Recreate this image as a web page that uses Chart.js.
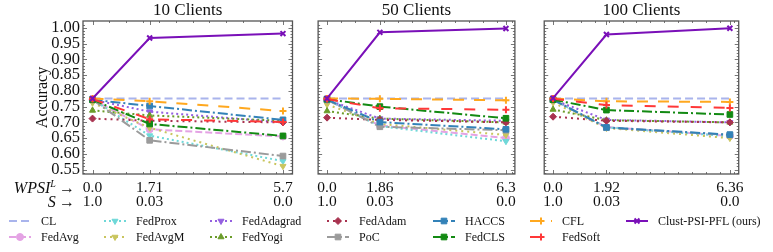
<!DOCTYPE html>
<html>
<head>
<meta charset="utf-8">
<script src="https://cdn.jsdelivr.net/npm/chart.js@4.4.0/dist/chart.umd.min.js"></script>
<style>
  body { margin: 0; background: #fff; width: 773px; height: 252px; overflow: hidden; position: relative; font-family: "Liberation Serif", serif; color: #111; }
  canvas.panel { position: absolute; top: 0; }
  .rowlab { position: absolute; font-size: 16px; line-height: 16px; text-align: right; width: 80px; white-space: nowrap; }
  .rowlab sup { font-size: 10px; vertical-align: 6px; line-height: 0; }
  .leg { position: absolute; font-size: 12px; line-height: 14px; white-space: nowrap; }
  .leg canvas { position: absolute; }
</style>
</head>
<body>
<canvas class="panel" id="p0"></canvas>
<canvas class="panel" id="p1"></canvas>
<canvas class="panel" id="p2"></canvas>
<div class="rowlab" style="left:-5px;top:180px;"><i>WPSI</i><sup><i>L</i></sup>&thinsp;→</div>
<div class="rowlab" style="left:-5px;top:194px;"><i>S</i>&thinsp;→</div>
<div id="legend"></div>
<script>
const panelTitles = ['10 Clients', '50 Clients', '100 Clients'];
const wpsiValues = [[0, 1.71, 5.7], [0, 1.86, 6.3], [0, 1.92, 6.36]];
const wpsiLabels = [['0.0', '1.71', '5.7'], ['0.0', '1.86', '6.3'], ['0.0', '1.92', '6.36']];
const sLabels = [['1.0', '0.03', '0.0'], ['1.0', '0.03', '0.0'], ['1.0', '0.03', '0.0']];
const yTickValues = [0.55, 0.60, 0.65, 0.70, 0.75, 0.80, 0.85, 0.90, 0.95, 1.00];

const methods = ['CL', 'FedAvg', 'FedProx', 'FedAvgM', 'FedAdagrad', 'FedYogi', 'FedAdam',
                 'PoC', 'HACCS', 'FedCLS', 'CFL', 'FedSoft', 'Clust-PSI-PFL (ours)'];

// accuracy per method (same order as methods), one row per method
const acc10 = [
  [0.776, 0.776, 0.776],
  [0.772, 0.678, 0.655],
  [0.772, 0.658, 0.577],
  [0.762, 0.683, 0.561],
  [0.772, 0.734, 0.700],
  [0.738, 0.722, 0.705],
  [0.712, 0.705, 0.700],
  [0.772, 0.643, 0.593],
  [0.772, 0.752, 0.708],
  [0.772, 0.695, 0.657],
  [0.776, 0.767, 0.736],
  [0.774, 0.710, 0.701],
  [0.776, 0.968, 0.982]
];
const acc50 = [
  [0.776, 0.776, 0.776],
  [0.772, 0.690, 0.650],
  [0.772, 0.688, 0.640],
  [0.757, 0.695, 0.660],
  [0.772, 0.712, 0.705],
  [0.736, 0.712, 0.700],
  [0.715, 0.708, 0.700],
  [0.772, 0.686, 0.675],
  [0.772, 0.701, 0.678],
  [0.774, 0.750, 0.713],
  [0.776, 0.775, 0.770],
  [0.774, 0.745, 0.740],
  [0.776, 0.986, 0.998]
];
const acc100 = [
  [0.776, 0.776, 0.776],
  [0.772, 0.685, 0.657],
  [0.772, 0.684, 0.656],
  [0.763, 0.682, 0.650],
  [0.772, 0.708, 0.700],
  [0.741, 0.707, 0.700],
  [0.718, 0.705, 0.700],
  [0.772, 0.683, 0.660],
  [0.772, 0.684, 0.661],
  [0.772, 0.739, 0.725],
  [0.776, 0.767, 0.765],
  [0.775, 0.755, 0.746],
  [0.777, 0.979, 0.999]
];
const accPanels = [acc10, acc50, acc100];

const colors = ['#a9b4ec', '#e4a3e4', '#6fd8d8', '#c9c55e', '#9460e0', '#6b9c2a', '#a8324f',
                '#9b9b9b', '#3382b8', '#138a13', '#ffa81f', '#ff3838', '#7a10b8'];
const dashes = [[8, 4], [7, 3], [2, 3], [2, 4], [2, 3], [2, 3], [2, 4],
                [10, 3, 2, 3], [10, 3, 2, 3], [10, 3, 2, 3], [11, 10], [11, 12], []];
const markers = [false, 'circle', 'triangle', 'triangle', 'triangle', 'triangle', 'rectRot',
                 'rect', 'rect', 'rect', 'cross', 'cross', 'crossRot'];
const markerRot = [0, 0, 180, 180, 180, 0, 0, 0, 0, 0, 0, 0, 0];

// plot area geometry
const areaLeft = [83, 310, 536];
const areaRight = [296, 519, 747];
const axisW = [55, 0, 0];
const canvasH = 212;
const areaTop = 21;
const areaBottom = 174;

const framePlugin = {
  id: 'frame',
  afterDatasetsDraw(chart, args, opts) {
    const { ctx, chartArea: a, scales: { x, y } } = chart;
    ctx.save();
    ctx.strokeStyle = '#555';
    ctx.lineWidth = 1.3;
    ctx.strokeRect(a.left, a.top, a.right - a.left, a.bottom - a.top);
    ctx.lineWidth = 0.8;
    ctx.beginPath();
    for (let v = 0.54; v <= 1.02; v += 0.01) {
      const py = Math.round(y.getPixelForValue(v)) + 0.5;
      const major = yTickValues.some(t => Math.abs(t - v) < 1e-6);
      const len = major ? 4 : 2;
      ctx.moveTo(a.left, py); ctx.lineTo(a.left + len, py);
      ctx.moveTo(a.right, py); ctx.lineTo(a.right - len, py);
    }
    for (let v = 0.5; v < x.max; v += 0.5) {
      const px = Math.round(x.getPixelForValue(v)) + 0.5;
      ctx.moveTo(px, a.bottom); ctx.lineTo(px, a.bottom - 2);
      ctx.moveTo(px, a.top); ctx.lineTo(px, a.top + 2);
    }
    opts.majors.forEach(v => {
      const px = Math.round(x.getPixelForValue(v)) + 0.5;
      ctx.moveTo(px, a.bottom); ctx.lineTo(px, a.bottom - 4);
      ctx.moveTo(px, a.top); ctx.lineTo(px, a.top + 4);
    });
    ctx.stroke();
    ctx.restore();
  }
};

panelTitles.forEach((title, p) => {
  const cv = document.getElementById('p' + p);
  const left = areaLeft[p] - axisW[p];
  const width = areaRight[p] - left + 4;
  cv.width = width; cv.height = canvasH;
  cv.style.left = left + 'px';
  const xs = wpsiValues[p];
  const xmax = xs[xs.length - 1];

  const datasets = methods.map((m, i) => ({
    label: m,
    data: xs.map((xv, k) => ({ x: xv, y: accPanels[p][i][k] })),
    borderColor: colors[i],
    backgroundColor: colors[i],
    borderWidth: 2,
    borderDash: dashes[i],
    pointStyle: markers[i],
    pointRotation: markerRot[i],
    pointRadius: markers[i] ? (markers[i] === 'rect' ? 4 : 3.5) : 0,
    pointBorderWidth: markers[i] && markers[i].startsWith('cross') ? 2 : 1,
    tension: 0,
    order: methods.length - i
  }));

  new Chart(cv, {
    type: 'line',
    data: { datasets: datasets },
    plugins: [framePlugin],
    options: {
      responsive: false,
      animation: false,
      devicePixelRatio: 1,
      layout: { padding: { left: 0, right: 4, top: 0, bottom: 0 } },
      plugins: {
        legend: { display: false },
        tooltip: { enabled: false },
        title: { display: false },
        frame: { majors: xs }
      },
      scales: {
        x: {
          type: 'linear',
          min: -0.05 * xmax,
          max: 1.05 * xmax,
          grid: { display: false, drawTicks: false },
          border: { display: false },
          afterBuildTicks: s => { s.ticks = xs.map(v => ({ value: v })); },
          afterFit: s => { s.height = canvasH - areaBottom; },
          ticks: {
            autoSkip: false,
            maxRotation: 0,
            padding: 7,
            color: '#111',
            font: { family: 'Liberation Serif', size: 15.5, lineHeight: 0.92 },
            callback: v => {
              const k = xs.findIndex(t => Math.abs(t - v) < 1e-9);
              return k < 0 ? '' : [wpsiLabels[p][k], sLabels[p][k]];
            }
          }
        },
        // top axis only carries the panel title, centred over the plot area
        xTop: {
          type: 'linear',
          position: 'top',
          min: -0.05 * xmax,
          max: 1.05 * xmax,
          grid: { display: false, drawTicks: false },
          border: { display: false },
          ticks: { display: false },
          afterFit: s => { s.height = areaTop; },
          title: {
            display: true,
            text: title,
            color: '#111',
            font: { family: 'Liberation Serif', size: 17, lineHeight: 1 },
            padding: { top: 2, bottom: 2 }
          }
        },
        y: {
          type: 'linear',
          min: 0.536,
          max: 1.022,
          display: p === 0,
          grid: { display: false, drawTicks: false },
          border: { display: false },
          afterBuildTicks: s => { s.ticks = yTickValues.map(v => ({ value: v })); },
          afterFit: s => { s.width = axisW[p]; },
          title: {
            display: p === 0,
            text: 'Accuracy',
            color: '#111',
            font: { family: 'Liberation Serif', size: 16 },
            padding: { top: 5, bottom: 0 }
          },
          ticks: {
            autoSkip: false,
            padding: 3,
            color: '#111',
            font: { family: 'Liberation Serif', size: 16.5 },
            callback: v => v.toFixed(2)
          }
        }
      }
    }
  });
});

// legend, laid out in columns like the original figure
const legTextX = [41, 136, 242, 359, 465, 562, 658];
const legRowY = [221, 237];
const legendDiv = document.getElementById('legend');
methods.forEach((m, i) => {
  const col = Math.floor(i / 2), row = i % 2;
  const item = document.createElement('div');
  item.className = 'leg';
  item.style.left = legTextX[col] + 'px';
  item.style.top = (legRowY[row] - 7) + 'px';
  item.textContent = m;
  const hc = document.createElement('canvas');
  hc.width = 24; hc.height = 12;
  hc.style.left = '-33px'; hc.style.top = '1px';
  const ctx = hc.getContext('2d');
  ctx.strokeStyle = colors[i];
  ctx.fillStyle = colors[i];
  ctx.lineWidth = 2;
  ctx.setLineDash(dashes[i]);
  ctx.beginPath(); ctx.moveTo(1, 6); ctx.lineTo(23, 6); ctx.stroke();
  ctx.setLineDash([]);
  if (markers[i] && Chart.helpers && Chart.helpers.drawPoint) {
    ctx.lineWidth = markers[i].startsWith('cross') ? 2 : 1;
    Chart.helpers.drawPoint(ctx, { pointStyle: markers[i], rotation: markerRot[i], radius: markers[i] === 'rect' ? 4 : 3.5, borderWidth: ctx.lineWidth }, 12, 6);
  }
  item.appendChild(hc);
  legendDiv.appendChild(item);
});
</script>
</body>
</html>
